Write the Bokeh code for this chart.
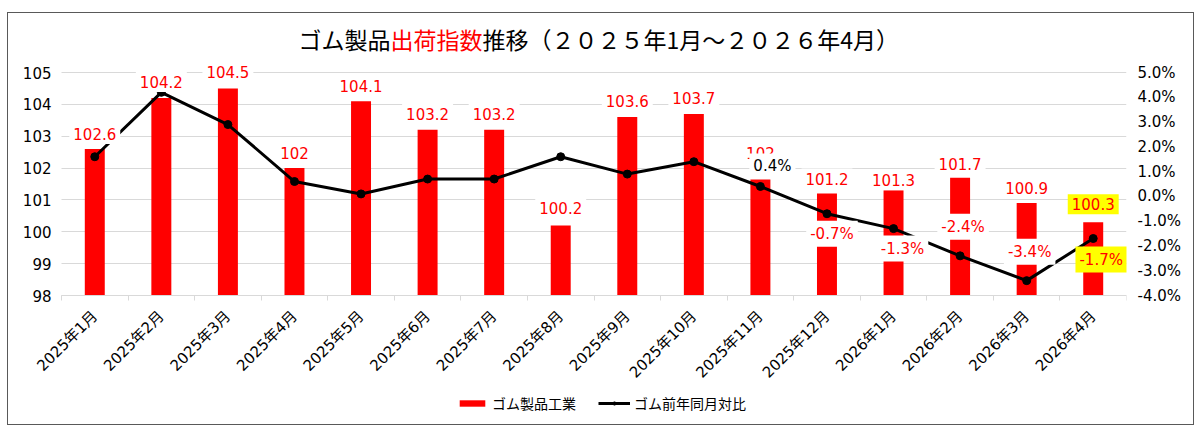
from bokeh.plotting import figure
from bokeh.models import (ColumnDataSource, Range1d, LinearAxis, FixedTicker,
                          PrintfTickFormatter, Label, Legend, LegendItem)
from bokeh.core.properties import value
from bokeh.embed import file_html
from bokeh.resources import INLINE

# ---------------- data ----------------
months = ["2025年1月", "2025年2月", "2025年3月", "2025年4月", "2025年5月", "2025年6月",
          "2025年7月", "2025年8月", "2025年9月", "2025年10月", "2025年11月", "2025年12月",
          "2026年1月", "2026年2月", "2026年3月", "2026年4月"]
index_values = [102.6, 104.2, 104.5, 102.0, 104.1, 103.2, 103.2, 100.2, 103.6, 103.7,
                101.7, 101.2, 101.3, 101.7, 100.9, 100.3]
index_labels = ["102.6", "104.2", "104.5", "102", "104.1", "103.2", "103.2", "100.2", "103.6",
                "103.7", "102", "101.2", "101.3", "101.7", "100.9", "100.3"]
yoy_values = [1.6, 4.2, 2.9, 0.6, 0.1, 0.7, 0.7, 1.6, 0.9, 1.4, 0.4, -0.7, -1.3, -2.4, -3.4, -1.7]
yoy_label_shown = [False] * 10 + [True] * 6
highlighted = [False] * 15 + [True]
left_ticks = [98, 99, 100, 101, 102, 103, 104, 105]
right_ticks = [-4, -3, -2, -1, 0, 1, 2, 3, 4, 5]

# ---------------- layout / style ----------------
RED = "#ff0000"
YELLOW = "#ffff00"
NUM_FONT = "DejaVu Sans, Noto Sans CJK JP"
JP_FONT = "Noto Sans CJK JP"
bar_label_up = [15, 16, 16, 15, 15, 16, 16, 17, 16, 16, 25, 15, 10, 14, 15, 18]
yoy_label_dx = [12, 5, 9, 3, 3, 8]
yoy_label_dy = [-20, 20, 20, -29, -29, 21]

n = len(months)
xpos = [i + 0.5 for i in range(n)]       # category centres on a numeric scale
xbounds = [i for i in range(n + 1)]      # category boundaries (small axis ticks)

PLOT_W = 1065                            # width of the plotting area (all categories)
PAD_L = 53                               # room left of the plotting area for y labels
FW = PLOT_W + PAD_L
cat_px = PLOT_W / n
x_start = -PAD_L / cat_px

PX_ABOVE, PX_BELOW = 276, 129           # frame pixels above / below the 98 baseline
FH = PX_ABOVE + PX_BELOW
unit_px = 223 / 7                        # pixels per index point (98..105 spans 223 px)
base = 98
y_start = base - PX_BELOW / unit_px      # room under the baseline for tick labels + legend
y_end = base + PX_ABOVE / unit_px        # room above 105 for the title
pct_base = -4
pct_start = pct_base + (y_start - base) * 9 / 7
pct_end = pct_base + (y_end - base) * 9 / 7

p = figure(x_range=Range1d(x_start, n), y_range=Range1d(y_start, y_end),
           frame_width=FW, frame_height=FH,
           min_border_left=0, min_border_right=67, min_border_top=6, min_border_bottom=0,
           output_backend="svg", toolbar_location=None, tools="")
p.styles = {"border": "1px solid #595959", "margin": "12px 0px 0px 7px"}
p.outline_line_color = None
p.background_fill_color = "white"
p.border_fill_color = "white"
p.extra_y_ranges = {"pct": Range1d(pct_start, pct_end)}

# left axis, drawn at the left edge of the category area
ya = p.yaxis[0]
ya.fixed_location = 0
ya.ticker = FixedTicker(ticks=left_ticks)
ya.axis_line_color = None
ya.major_tick_line_color = None
ya.major_tick_out = 0
ya.minor_tick_line_color = None
ya.major_label_text_font = NUM_FONT
ya.major_label_text_font_size = "15px"
ya.major_label_text_color = "black"
ya.major_label_standoff = 10

# category axis on the 98 baseline
xa = p.xaxis[0]
xa.fixed_location = base
xa.ticker = FixedTicker(ticks=xpos, minor_ticks=xbounds)
xa.major_label_overrides = {x: m for x, m in zip(xpos, months)}
xa.axis_line_color = "#d9d9d9"
xa.bounds = (0, n)
xa.major_tick_line_color = None
xa.major_tick_out = 0
xa.minor_tick_line_color = "#d9d9d9"
xa.minor_tick_in = 0
xa.minor_tick_out = 5
xa.major_label_orientation = 0.7854
xa.major_label_text_font = NUM_FONT
xa.major_label_text_font_size = "15px"
xa.major_label_text_color = "black"
xa.major_label_standoff = 13

ra = LinearAxis(y_range_name="pct", ticker=FixedTicker(ticks=right_ticks),
                formatter=PrintfTickFormatter(format="%.1f%%"))
ra.axis_line_color = None
ra.major_tick_line_color = None
ra.major_tick_out = 0
ra.minor_tick_line_color = None
ra.major_label_text_font = NUM_FONT
ra.major_label_text_font_size = "15px"
ra.major_label_text_color = "black"
ra.major_label_standoff = 11
p.add_layout(ra, "right")

p.xgrid.grid_line_color = None
p.ygrid.grid_line_color = "#d9d9d9"
p.ygrid.grid_line_width = 1
p.ygrid.cross_bounds = (0, n)

# ---------------- glyphs ----------------
src = ColumnDataSource(dict(
    x=xpos, top=index_values, yoy=yoy_values, label=index_labels,
    bdy=[-d for d in bar_label_up],
    bg=[YELLOW if h else "white" for h in highlighted],
))

bars = p.vbar(x="x", top="top", bottom=base, width=0.3, source=src,
              fill_color=RED, line_color=None)
line = p.line(x="x", y="yoy", source=src, y_range_name="pct", line_color="black", line_width=3)
pts = p.scatter(x="x", y="yoy", source=src, y_range_name="pct", size=8,
                fill_color="black", line_color="black")

p.text(x="x", y="top", text="label", source=src, y_offset="bdy",
       text_align="center", text_baseline="middle", text_color=RED,
       text_font=value(NUM_FONT), text_font_size="15px",
       background_fill_color="bg", padding=4)

# year-on-year labels (only the months that show them)
lx, ly, lt, lc, lb = [], [], [], [], []
for x, v, s, h in zip(xpos, yoy_values, yoy_label_shown, highlighted):
    if s:
        lx.append(x)
        ly.append(v)
        lt.append(f"{v:.1f}%")
        lc.append("black" if v >= 0 else RED)
        lb.append(YELLOW if h else "white")
lsrc = ColumnDataSource(dict(x=lx, y=ly, text=lt, color=lc, bg=lb,
                             dx=yoy_label_dx, dy=yoy_label_dy))
p.text(x="x", y="y", text="text", source=lsrc, y_range_name="pct",
       x_offset="dx", y_offset="dy", text_align="center", text_baseline="middle",
       text_color="color", text_font=value(NUM_FONT), text_font_size="15px",
       background_fill_color="bg", padding=4)

# ---------------- title (three coloured parts, inside the top of the frame) ----------------
title_parts = [("ゴム製品", "black", 290), ("出荷指数", RED, 382),
               ("推移（２０２５年1月～２０２６年4月）", "black", 474)]
for txt, col, tx in title_parts:
    p.add_layout(Label(x=tx, y=FH - 19, x_units="screen", y_units="screen", text=txt,
                       text_color=col, text_font=JP_FONT, text_font_size="23px",
                       text_baseline="middle", text_align="left"))

# ---------------- legend (inside the lower part of the frame) ----------------
legend = Legend(items=[LegendItem(label="ゴム製品工業", renderers=[bars]),
                       LegendItem(label="ゴム前年同月対比", renderers=[line, pts])],
                orientation="horizontal", location=(PAD_L + 395, 11))
legend.padding = 0
legend.margin = 0
legend.spacing = 22
legend.glyph_width = 32
legend.glyph_height = 8
legend.label_standoff = 4
legend.label_height = 18
legend.label_text_font = JP_FONT
legend.label_text_font_size = "14px"
legend.label_text_color = "black"
legend.border_line_color = None
legend.background_fill_alpha = 0
p.add_layout(legend)

open("out.html", "w").write(file_html(p, INLINE))
